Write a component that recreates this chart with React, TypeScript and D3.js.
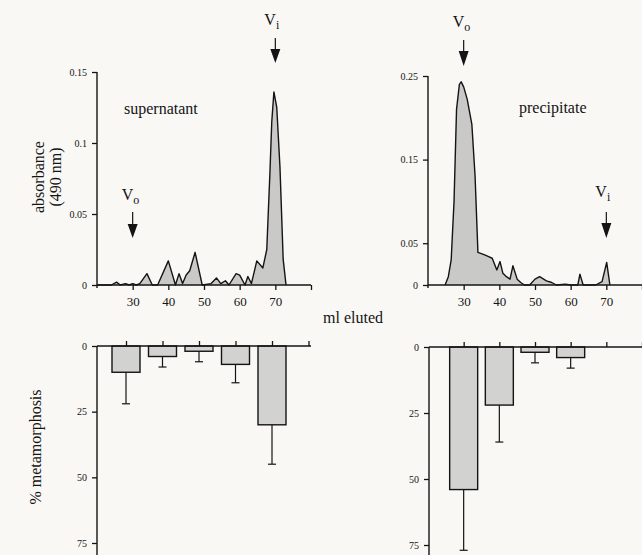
import React, { useEffect, useRef } from 'react';
import * as d3 from 'd3';

// Chromatogram, supernatant fraction (ml eluted, absorbance at 490 nm)
const supernatantMl = [20, 24, 25.5, 26.5, 28, 29, 30, 31, 32, 34, 35.5, 37, 40, 42, 43, 44, 45, 46, 47.5, 49.5, 52, 53.5, 54.7, 56, 57, 59, 60, 61.5, 62.3, 63.3, 64.8, 66.5, 67.6, 68.5, 69, 69.6, 70.4, 71.3, 72.2, 73];
const supernatantAbs = [0, 0, 0.002, 0, 0.001, 0, 0.001, 0, 0.001, 0.008, 0, 0, 0.017, 0, 0.008, 0.001, 0.007, 0.01, 0.023, 0, 0.001, 0.005, 0.001, 0.003, 0, 0.008, 0.007, 0, 0.006, 0.001, 0.017, 0.012, 0.025, 0.08, 0.115, 0.136, 0.125, 0.083, 0.018, 0];

// Chromatogram, precipitate fraction
const precipitateMl = [24.8, 25.7, 26.5, 27.3, 28, 28.8, 29.3, 30, 31, 32.3, 33.2, 34, 35.9, 37, 38, 39.3, 40.2, 41, 42, 43, 43.8, 45, 46, 47, 48.5, 50, 51.3, 53.2, 54.7, 56, 58.5, 60, 62, 62.6, 63.5, 67, 68.8, 70.1, 71];
const precipitateAbs = [0, 0.01, 0.03, 0.1, 0.21, 0.24, 0.243, 0.237, 0.222, 0.192, 0.13, 0.039, 0.036, 0.034, 0.032, 0.018, 0.028, 0.014, 0.01, 0.007, 0.023, 0.007, 0.003, 0, 0, 0.007, 0.01, 0.005, 0.003, 0, 0.001, 0, 0, 0.013, 0, 0, 0.004, 0.027, 0];

// % metamorphosis per pooled fraction (mean and SD)
const supernatantFractions = [30, 40, 50, 60, 70];
const supernatantMeta = [10, 4, 2, 7, 30];
const supernatantSd = [12, 4, 4, 7, 15];
const precipitateFractions = [30, 40, 50, 60];
const precipitateMeta = [54, 22, 2, 4];
const precipitateSd = [23, 14, 4, 4];

const xTickValues = [30, 40, 50, 60, 70, 80];
const supernatantTicks = [0, 0.05, 0.1, 0.15];
const precipitateTicks = [0, 0.05, 0.15, 0.25];
const metaTicks = [0, 25, 50, 75];

const FONT = '"Liberation Serif", "Times New Roman", serif';
const INK = '#141414';
const AREA_FILL = '#c9c9c7';
const BAR_FILL = '#d2d2d0';

export default function App() {
  const svgRef = useRef<SVGSVGElement | null>(null);

  useEffect(() => {
    const svg = d3.select(svgRef.current);
    svg.selectAll('*').remove();

    svg.append('rect').attr('width', 642).attr('height', 555).attr('fill', '#f9f8f5');

    // scales
    const xSup = d3.scaleLinear().domain([20, 80]).range([97, 311]);
    const xPre = d3.scaleLinear().domain([20, 80]).range([428, 642]);
    const ySup = d3.scaleLinear().domain([0, 0.15]).range([285, 72]);
    const yPre = d3.scaleLinear().domain([0, 0.25]).range([285, 76]);
    const xSupBars = d3.scaleLinear().domain([30, 70]).range([126, 272]);
    const yMetaL = d3.scaleLinear().domain([0, 75]).range([346, 543]);
    const yMetaR = d3.scaleLinear().domain([0, 75]).range([347, 545]);

    const fmt = (d: any) => (d === 0 ? '0' : String(d));

    const hline = (x1: number, x2: number, y: number) =>
      svg.append('line').attr('x1', x1).attr('x2', x2).attr('y1', y).attr('y2', y)
        .attr('stroke', INK).attr('stroke-width', 1.4);
    const vline = (x: number, y1: number, y2: number) =>
      svg.append('line').attr('x1', x).attr('x2', x).attr('y1', y1).attr('y2', y2)
        .attr('stroke', INK).attr('stroke-width', 1.4);

    const styleAxis = (g: any, size: number) => {
      g.attr('font-family', FONT).attr('font-size', size);
      g.select('.domain').remove();
      g.selectAll('.tick line').style('stroke', INK).style('stroke-width', '1.3px');
      g.selectAll('.tick text').style('fill', INK);
    };

    function chromatogram(ml: number[], abs: number[], x: any, y: any, ticks: number[]) {
      const pts = ml.map((m, i) => [m, abs[i]] as [number, number]);
      const area = d3.area<[number, number]>().x(d => x(d[0])).y0(y(0)).y1(d => y(d[1]));
      const line = d3.line<[number, number]>().x(d => x(d[0])).y(d => y(d[1]));
      svg.append('path').datum(pts).attr('d', area).attr('fill', AREA_FILL);
      svg.append('path').datum(pts).attr('d', line).attr('fill', 'none')
        .attr('stroke', INK).attr('stroke-width', 1.4).attr('stroke-linejoin', 'round');

      const ya = svg.append('g').attr('transform', `translate(${x(20)},0)`)
        .call(d3.axisLeft(y).tickValues(ticks).tickSize(5).tickSizeOuter(0).tickPadding(5).tickFormat(fmt));
      styleAxis(ya, 10);
      vline(x(20), y(ticks[ticks.length - 1]), y(0) + 3);

      const xa = svg.append('g').attr('transform', `translate(0,${y(0)})`)
        .call(d3.axisBottom(x).tickValues(xTickValues).tickSize(5).tickSizeOuter(0).tickPadding(7)
          .tickFormat((d: any) => (d === 80 ? '' : String(d))));
      styleAxis(xa, 13);
      hline(x(20), x(80), y(0));
    }

    chromatogram(supernatantMl, supernatantAbs, xSup, ySup, supernatantTicks);
    chromatogram(precipitateMl, precipitateAbs, xPre, yPre, precipitateTicks);

    function bars(fr: number[], mean: number[], sd: number[], x: any, y: any, xStart: number, xEnd: number) {
      const bw = 28;
      // error bars hang below each bar
      fr.forEach((f, i) => {
        const cx = x(f);
        const yEnd = y(mean[i] + sd[i]);
        vline(cx, y(mean[i]), yEnd).attr('stroke-width', 1.2);
        hline(cx - 4, cx + 4, yEnd).attr('stroke-width', 1.2);
      });
      svg.append('g').selectAll('rect').data(fr).enter().append('rect')
        .attr('x', d => x(d) - bw / 2)
        .attr('y', y(0))
        .attr('width', bw)
        .attr('height', (_, i) => y(mean[i]) - y(0))
        .attr('fill', BAR_FILL)
        .attr('stroke', INK)
        .attr('stroke-width', 1.4);

      // top axis, ticks pointing up
      const ta = svg.append('g').attr('transform', `translate(0,${y(0)})`)
        .call(d3.axisTop(x).tickValues(xTickValues).tickSize(5).tickSizeOuter(0).tickFormat(() => ''));
      styleAxis(ta, 10);
      hline(xStart, xEnd, y(0));

      const ya = svg.append('g').attr('transform', `translate(${xStart},0)`)
        .call(d3.axisLeft(y).tickValues(metaTicks).tickSize(5).tickSizeOuter(0).tickPadding(5).tickFormat(fmt));
      styleAxis(ya, 10);
      vline(xStart, y(0), 556);
    }

    bars(supernatantFractions, supernatantMeta, supernatantSd, xSupBars, yMetaL, 97, 311);
    bars(precipitateFractions, precipitateMeta, precipitateSd, xPre, yMetaR, 429, 642);

    // Vo / Vi markers
    function marker(cx: number, sub: string, baseY: number, stemTop: number, triTop: number, tip: number) {
      const t = svg.append('text').attr('x', cx - 11).attr('y', baseY)
        .attr('font-family', FONT).attr('font-size', 16).attr('fill', INK);
      t.append('tspan').text('V');
      t.append('tspan').attr('font-size', 12).attr('dy', 4).text(sub);
      vline(cx, stemTop, triTop + 2).attr('stroke-width', 1.2);
      svg.append('path').attr('d', `M${cx - 5},${triTop}L${cx + 5},${triTop}L${cx},${tip}Z`).attr('fill', INK);
    }
    marker(xSup(70), 'i', 25, 38, 49, 63);
    marker(xSup(30), 'o', 200, 212, 224, 238);
    marker(xPre(30), 'o', 27, 40, 51, 66);
    marker(xPre(70), 'i', 197, 212, 223, 238);

    const label = (txt: string, x: number, y: number, rot = false) => {
      svg.append('text').attr('font-family', FONT).attr('font-size', 16).attr('fill', INK)
        .attr('text-anchor', rot ? 'middle' : 'start')
        .attr('transform', rot ? `translate(${x},${y}) rotate(-90)` : `translate(${x},${y})`)
        .text(txt);
    };
    label('supernatant', 124, 114);
    label('precipitate', 519, 113);
    label('ml eluted', 323, 323);
    label('absorbance', 44, 177, true);
    label('(490 nm)', 61, 177, true);
    label('% metamorphosis', 41, 447, true);
  }, []);

  return (
    <svg ref={svgRef} width={642} height={555}
      style={{ position: 'absolute', left: 0, top: 0, display: 'block' }} />
  );
}
